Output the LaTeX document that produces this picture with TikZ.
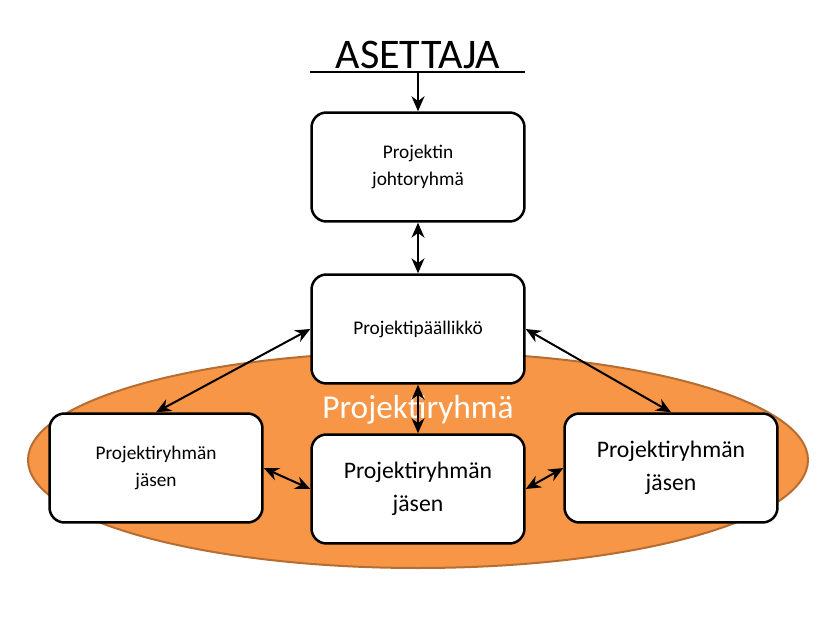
\documentclass[tikz,border=0pt]{standalone}
\usepackage{fontspec}
\setmainfont{Carlito}
\usetikzlibrary{arrows.meta}
\definecolor{ryhmafill}{HTML}{F79646}
\definecolor{ryhmaline}{HTML}{B66D31}
\tikzset{
    laatikko/.style={draw, line width=.5mm, rounded corners=3mm, fill=white,
        minimum width=4.26cm, minimum height=2.18cm, align=center},
    nuoli/.style={line width=.4mm, {Stealth[length=3mm,width=2.6mm]}-{Stealth[length=3mm,width=2.6mm]}}
}
\begin{document}
\begin{tikzpicture}[x=0.02cm, y=-0.02cm]
    \useasboundingbox (0,0) rectangle (838,621);
    \draw[ryhmaline, fill=ryhmafill, line width=.4mm] (418,460) ellipse (390 and 108);
    \node[white, font=\fontsize{19}{22}\selectfont] (ryhma) at (418,410) {Projektiryhmä};
    \node[font=\fontsize{24}{28}\selectfont] (asettaja) at (418,55) {ASETTAJA};
    \draw[line width=.4mm] (310,72) -- (525,72);
    \coordinate (viiva) at (418,72);
    \node[laatikko, font=\fontsize{11}{15}\selectfont] (johto) at (418,167) {Projektin\\johtoryhmä};
    \node[laatikko, font=\fontsize{11}{15}\selectfont] (pm) at (418,329) {Projektipäällikkö};
    \node[laatikko, font=\fontsize{11}{15}\selectfont] (vasen) at (156,468) {Projektiryhmän\\jäsen};
    \node[laatikko, font=\fontsize{13.5}{19}\selectfont] (keski) at (418,489) {Projektiryhmän\\jäsen};
    \node[laatikko, font=\fontsize{13.5}{19}\selectfont] (oikea) at (671,468) {Projektiryhmän\\jäsen};
    \draw[line width=.4mm, -{Stealth[length=3mm,width=2.6mm]}] (viiva) -- (johto.north);
    \draw[nuoli] (johto.south) -- (pm.north);
    \draw[nuoli] (pm.south) -- (keski.north);
    \draw[nuoli] (pm.west) -- (vasen.north);
    \draw[nuoli] (pm.east) -- (oikea.north);
    \draw[nuoli] (vasen.east) -- (keski.west);
    \draw[nuoli] (keski.east) -- (oikea.west);
\end{tikzpicture}
\end{document}
